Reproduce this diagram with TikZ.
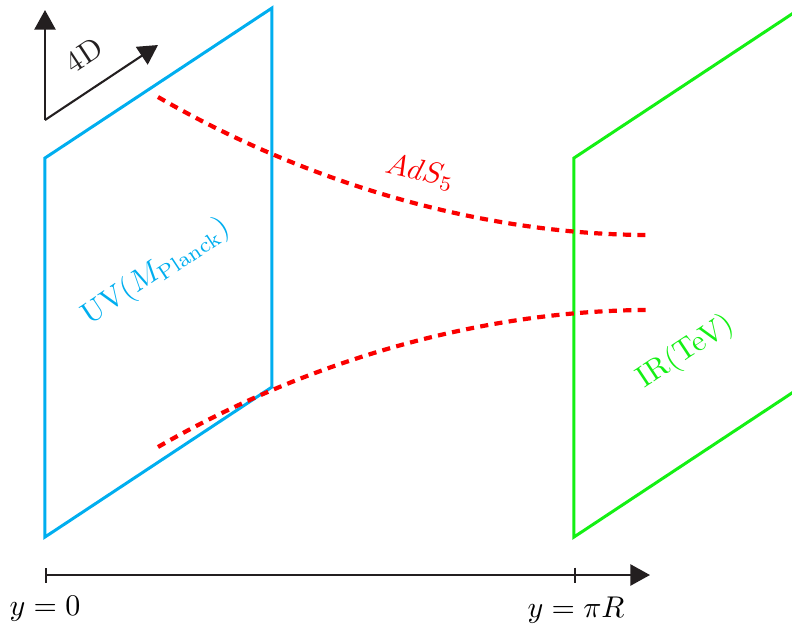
\documentclass[tikz,border=0pt]{standalone}
\usepackage{amsmath}
\usepackage{tikz}
\usetikzlibrary{arrows.meta,positioning,calc}
\definecolor{uvblue}{RGB}{0,174,239}
\definecolor{irgreen}{RGB}{20,240,20}
\definecolor{bulkred}{RGB}{250,0,0}
\definecolor{axisgray}{RGB}{35,31,32}
\tikzset{
  brane/.style={line width=1pt},
  bulk/.style={draw=bulkred,line width=1.4pt,dash pattern=on 2.7pt off 2.1pt},
  axisarr/.style={-{Triangle[length=6.5pt,width=7pt]},draw=axisgray,line width=0.7pt},
  tickline/.style={{Bar[width=5pt]}-{Bar[width=5pt]},draw=axisgray,line width=0.7pt},
  lbl/.style={inner sep=1pt},
}

\begin{document}
\begin{tikzpicture}[x=0.3333pt,y=-0.3333pt]
  \useasboundingbox (0,0) rectangle (792,627);
  \clip (0,0) rectangle (792,627);
  % the two branes
  \foreach \x/\c/\n in {45/uvblue/uv, 574/irgreen/ir}{
    \coordinate (\n1) at (\x,158);
    \coordinate (\n2) at (\x+227,8);
    \coordinate (\n3) at (\x+227,387);
    \coordinate (\n4) at (\x,537);
    \draw[brane,\c] (\n1) -- (\n2) -- (\n3) -- (\n4) -- cycle;}
  \node[lbl,uvblue,rotate=33.5] (uvlabel) at (156,272) {UV$(M_{\rm Planck})$};
  \node[lbl,irgreen,rotate=33.5] (irlabel) at (686,352) {IR(TeV)};
  % bulk
  \coordinate (top0) at (158,97);
  \coordinate (top1) at (650,235);
  \coordinate (bot0) at (158,447);
  \coordinate (bot1) at (650,310);
  \draw[bulk] (top0) .. controls (305,182) and (480,235) .. (top1);
  \draw[bulk] (bot0) .. controls (305,362) and (480,310) .. (bot1);
  \node[lbl,bulkred,rotate=-13] (ads) at (420,172) {$AdS_5$};
  % 4D directions
  \coordinate (o) at (45,120);
  \coordinate (up) at (45,10);
  \coordinate (diag) at (158,45);
  \draw[axisarr] (o) -- (up);
  \draw[axisarr] (o) -- (diag);
  \node[lbl,axisgray,rotate=33.5] (fourd) at (84,55) {4D};
  % extra dimension
  \coordinate (y0) at (45,575);
  \coordinate (yR) at (576,575);
  \coordinate (yend) at (650,575);
  \draw[tickline] (y0) -- (yR);
  \draw[axisarr] (yR) -- (yend);
  \node[lbl,below=6pt of y0] (y0label) {$y=0$};
  \node[lbl,below=6pt of yR] (yRlabel) {$y=\pi R$};
\end{tikzpicture}
\end{document}
